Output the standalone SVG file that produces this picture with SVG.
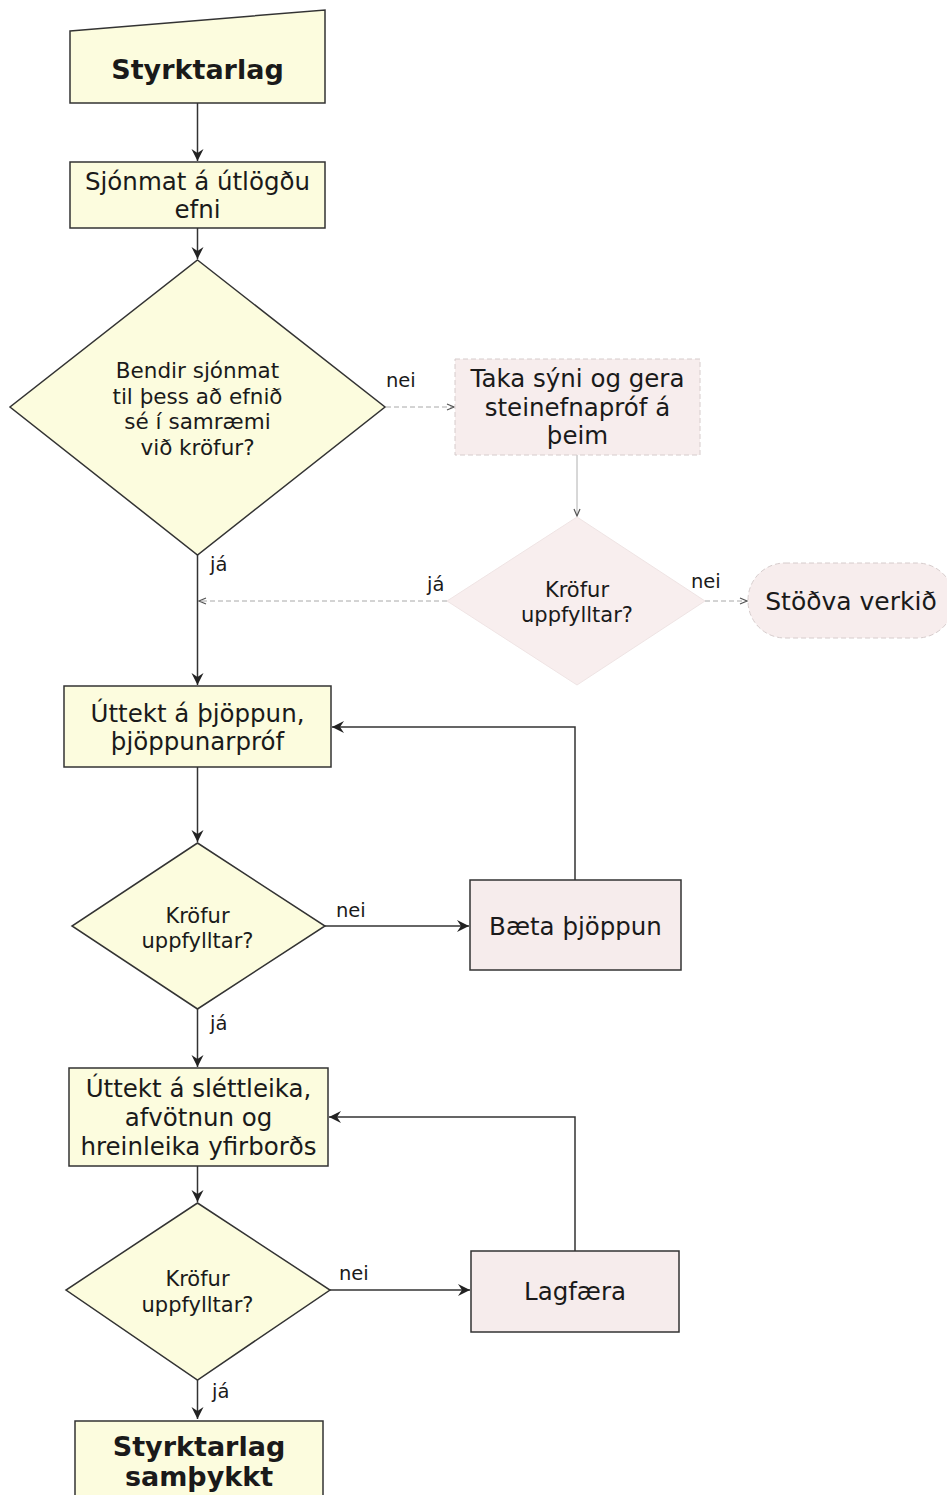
<svg xmlns="http://www.w3.org/2000/svg" width="947" height="1495" viewBox="0 0 947 1495">
<style>
  .bg { fill: #ffffff; }
  .yel { fill: #fcfcde; stroke: #333333; stroke-width: 1.5; }
  .pink { fill: #f6ecec; stroke: #333333; stroke-width: 1.5; }
  .pinkfaint { fill: #f7eded; stroke: #d6cccc; stroke-width: 1; stroke-dasharray: 5 3; }
  .pinknone { fill: #f8eeee; stroke: #efe4e4; stroke-width: 1; }
  text { font-family: "DejaVu Sans", Verdana, sans-serif; fill: #1a1a1a; }
  .box { font-size: 24.5px; text-anchor: middle; }
  .dec { font-size: 21.5px; text-anchor: middle; }
  .dec2 { font-size: 21px; text-anchor: middle; }
  .bold { font-size: 27px; font-weight: bold; text-anchor: middle; }
  .lbl { font-size: 19.5px; }
  .con { fill: none; stroke: #333333; stroke-width: 1.5; }
  .conl { fill: none; stroke: #a8a8a8; stroke-width: 1; stroke-dasharray: 5 3; }
  .conls { fill: none; stroke: #b0b0b0; stroke-width: 1; }
</style>
<defs>
  <marker id="arr" markerUnits="userSpaceOnUse" markerWidth="14" markerHeight="14" viewBox="0 0 14 14" refX="13" refY="7" orient="auto">
    <path d="M1,1 L13,7 L1,13 L5,7 z" fill="#222222"/>
  </marker>
  <marker id="arrl" markerUnits="userSpaceOnUse" markerWidth="10" markerHeight="10" viewBox="0 0 10 10" refX="9" refY="5" orient="auto">
    <path d="M2,2 L9,5 L2,8" fill="none" stroke="#555555" stroke-width="1.2"/>
  </marker>
</defs>
<rect class="bg" x="0" y="0" width="947" height="1495"/>

<g id="connectors">
  <path class="con" d="M197.5,103 L197.5,161" marker-end="url(#arr)"/>
  <path class="con" d="M197.5,228 L197.5,259" marker-end="url(#arr)"/>
  <path class="conl" d="M386,407 L454,407" marker-end="url(#arrl)"/>
  <path class="conls" d="M577,455 L577,516" marker-end="url(#arrl)"/>
  <path class="conl" d="M447,601 L199,601" marker-end="url(#arrl)"/>
  <path class="conl" d="M705,601 L747,601" marker-end="url(#arrl)"/>
  <path class="con" d="M197.5,555 L197.5,685" marker-end="url(#arr)"/>
  <path class="con" d="M197.5,767 L197.5,842" marker-end="url(#arr)"/>
  <path class="con" d="M325,926 L469,926" marker-end="url(#arr)"/>
  <path class="con" d="M575,880 L575,727 L332,727" marker-end="url(#arr)"/>
  <path class="con" d="M197.5,1009 L197.5,1067" marker-end="url(#arr)"/>
  <path class="con" d="M575,1251 L575,1117 L329,1117" marker-end="url(#arr)"/>
  <path class="con" d="M197.5,1166 L197.5,1202" marker-end="url(#arr)"/>
  <path class="con" d="M330,1290 L470,1290" marker-end="url(#arr)"/>
  <path class="con" d="M197.5,1380 L197.5,1419" marker-end="url(#arr)"/>
  <text class="lbl" x="386" y="387">nei</text>
  <text class="lbl" x="210" y="571">já</text>
  <text class="lbl" x="427" y="591">já</text>
  <text class="lbl" x="691" y="588">nei</text>
  <text class="lbl" x="336" y="917">nei</text>
  <text class="lbl" x="210" y="1030">já</text>
  <text class="lbl" x="339" y="1280">nei</text>
  <text class="lbl" x="212" y="1398">já</text>
</g>

<g id="n-start">
  <polygon class="yel" points="70,31 325,10 325,103 70,103"/>
  <text class="bold" x="197.5" y="79">Styrktarlag</text>
</g>

<g id="n-sjonmat">
  <rect class="yel" x="70" y="162" width="255" height="66"/>
  <text class="box" x="197.5" y="190">Sjónmat á útlögðu</text>
  <text class="box" x="197.5" y="218">efni</text>
</g>

<g id="n-dec1">
  <polygon class="yel" points="197.5,260 385,407 197.5,555 10,407"/>
  <text class="dec" x="197.5" y="378">Bendir sjónmat</text>
  <text class="dec" x="197.5" y="403.5">til þess að efnið</text>
  <text class="dec" x="197.5" y="429">sé í samræmi</text>
  <text class="dec" x="197.5" y="455">við kröfur?</text>
</g>

<g id="n-taka">
  <rect class="pinkfaint" x="455" y="359" width="245" height="96"/>
  <text class="box" x="577.5" y="387">Taka sýni og gera</text>
  <text class="box" x="577.5" y="416">steinefnapróf á</text>
  <text class="box" x="577.5" y="444">þeim</text>
</g>

<g id="n-dec2">
  <polygon class="pinknone" points="577,517 705,601 577,685 447,601"/>
  <text class="dec2" x="577" y="597">Kröfur</text>
  <text class="dec2" x="577" y="622">uppfylltar?</text>
</g>

<g id="n-stodva">
  <rect class="pinkfaint" x="748" y="563" width="206" height="75" rx="37" ry="37"/>
  <text class="box" x="851" y="610" style="font-size:25px">Stöðva verkið</text>
</g>

<g id="n-uttekt1">
  <rect class="yel" x="64" y="686" width="267" height="81"/>
  <text class="box" x="197.5" y="722">Úttekt á þjöppun,</text>
  <text class="box" x="197.5" y="750">þjöppunarpróf</text>
</g>

<g id="n-dec3">
  <polygon class="yel" points="197.5,843 325,926 197.5,1009 72,926"/>
  <text class="dec2" x="197.5" y="923">Kröfur</text>
  <text class="dec2" x="197.5" y="948">uppfylltar?</text>
</g>

<g id="n-baeta">
  <rect class="pink" x="470" y="880" width="211" height="90"/>
  <text class="box" x="575.5" y="935">Bæta þjöppun</text>
</g>

<g id="n-uttekt2">
  <rect class="yel" x="69" y="1068" width="259" height="98"/>
  <text class="box" x="198.5" y="1097">Úttekt á sléttleika,</text>
  <text class="box" x="198.5" y="1126">afvötnun og</text>
  <text class="box" x="198.5" y="1155">hreinleika yfirborðs</text>
</g>

<g id="n-dec4">
  <polygon class="yel" points="197.5,1203 330,1290 197.5,1380 66,1290"/>
  <text class="dec2" x="197.5" y="1286">Kröfur</text>
  <text class="dec2" x="197.5" y="1312">uppfylltar?</text>
</g>

<g id="n-lagfaera">
  <rect class="pink" x="471" y="1251" width="208" height="81"/>
  <text class="box" x="575" y="1300">Lagfæra</text>
</g>

<g id="n-end">
  <rect class="yel" x="75" y="1421" width="248" height="80"/>
  <text class="bold" x="199" y="1456">Styrktarlag</text>
  <text class="bold" x="199" y="1486">samþykkt</text>
</g>
</svg>
